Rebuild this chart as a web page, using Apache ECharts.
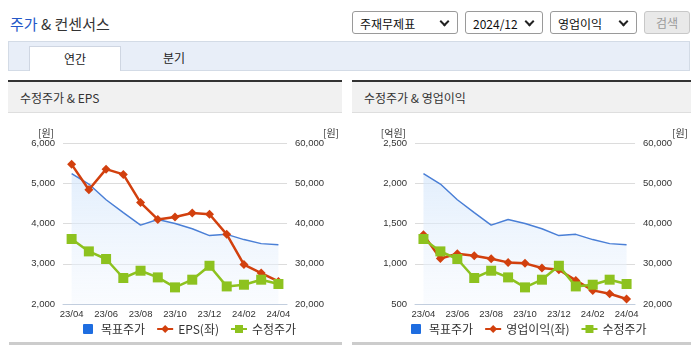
<!DOCTYPE html>
<html>
<head>
<meta charset="utf-8">
<script src="https://cdn.jsdelivr.net/npm/echarts@6/dist/echarts.min.js"></script>
<style>
  html, body { margin:0; padding:0; background:#fff; }
  body { width:695px; height:349px; position:relative; overflow:hidden; font-family:"Noto Sans CJK KR", "Noto Sans", sans-serif; color:#333; }
  .abs { position:absolute; }
  .title { left:10px; top:13px; font-size:15px; color:#333; white-space:nowrap; }
  .title b { font-weight:normal; color:#2458c8; }
  .sel { top:11px; height:23px; border:1px solid #9a9a9a; border-radius:3px; background:#fff; font-size:12px; line-height:23px; box-sizing:border-box; padding-left:7px; color:#111; }
  .sel i { position:absolute; right:9px; top:6px; width:5px; height:5px; border-right:2px solid #222; border-bottom:2px solid #222; transform:rotate(45deg); }
  .btn { top:11px; height:23px; left:644px; width:46px; border:1px solid #c8c8c8; border-radius:3px; background:#e9e9e9; color:#9a9a9a; font-size:12px; line-height:22px; text-align:center; box-sizing:border-box; }
  .tabbar { left:8px; top:41px; width:682px; height:30px; background:#e8eef8; border:1px solid #d3dbe6; box-sizing:border-box; }
  .tab { top:46px; left:29px; width:92px; height:25px; background:#fff; border:1px solid #cfd6e2; border-bottom:none; box-sizing:border-box; font-size:12px; text-align:center; line-height:24px; color:#222; }
  .tab2 { top:46px; left:128px; width:92px; height:25px; font-size:12px; text-align:center; line-height:24px; color:#222; }
  .phead { top:80px; height:33px; background:#f1f1f1; border-top:2px solid #333; border-bottom:1px solid #dedede; box-sizing:border-box; font-size:12px; line-height:31px; padding-left:12px; color:#333; }
  .pfoot { top:342px; height:3px; background:#cccccc; }
</style>
</head>
<body>
<div class="abs title"><b>주가</b> &amp; 컨센서스</div>
<div class="abs sel" style="left:352px;width:106px;">주재무제표<i></i></div>
<div class="abs sel" style="left:465px;width:78px;">2024/12<i></i></div>
<div class="abs sel" style="left:550px;width:87px;">영업이익<i></i></div>
<div class="abs btn">검색</div>
<div class="abs tabbar"></div>
<div class="abs tab">연간</div>
<div class="abs tab2">분기</div>

<div class="abs phead" style="left:8px;width:334px;">수정주가 &amp; EPS</div>
<div class="abs phead" style="left:352px;width:339px;">수정주가 &amp; 영업이익</div>
<div id="c1" class="abs" style="left:8px;top:114px;width:334px;height:228px;"></div>
<div id="c2" class="abs" style="left:352px;top:114px;width:339px;height:228px;"></div>
<div class="abs pfoot" style="left:9px;width:333px;"></div>
<div class="abs pfoot" style="left:352px;width:339px;"></div>

<script>
const categories = ['23/04','23/05','23/06','23/07','23/08','23/09','23/10','23/11','23/12','24/01','24/02','24/03','24/04'];
const targetPrice = [52400, 49800, 45900, 42700, 39600, 41000, 40000, 38700, 37000, 37300, 36000, 35000, 34700];
const adjPrice = [36150, 33070, 31180, 26460, 28270, 26610, 24130, 26040, 29500, 24370, 24790, 26040, 24970];
const eps = [5470, 4840, 5350, 5220, 4520, 4100, 4160, 4260, 4230, 3730, 2980, 2770, 2560];
const opProfit = [1360, 1066, 1125, 1100, 1063, 1017, 1005, 947, 926, 793, 669, 628, 562];

const legendNames1 = ['목표주가', 'EPS(좌)', '수정주가'];
const legendNames2 = ['목표주가', '영업이익(좌)', '수정주가'];
const leftUnit1 = '[원]';
const leftUnit2 = '[억원]';
const rightUnit = '[원]';

const NUMFONT = '"Liberation Sans", Arial, sans-serif';
const KFONT = '"Noto Sans CJK KR", sans-serif';
const BLUE = '#4a7fd6', RED = '#d2400e', GREEN = '#8dc21f';

function fmt(v) { return v.toLocaleString('en-US'); }

function build(opts) {
  return {
    animation: false,
    grid: { left: opts.gridLeft, top: 29, width: opts.gridWidth, height: 161 },
    legend: {
      left: opts.legendLeft, top: 204, itemGap: 11, itemWidth: 16, itemHeight: 10,
      textStyle: { fontFamily: KFONT, fontSize: 12, color: '#333' },
      data: [
        { name: opts.names[0], icon: 'path://M1,0L9,0Q10,0 10,1L10,9Q10,10 9,10L1,10Q0,10 0,9L0,1Q0,0 1,0Z', itemStyle: { color: '#1e6de0' } },
        { name: opts.names[1] },
        { name: opts.names[2] }
      ]
    },
    xAxis: {
      type: 'category', data: categories, boundaryGap: true,
      axisLine: { lineStyle: { color: '#c2cede', width: 1 } },
      axisTick: { length: 5, lineStyle: { color: '#c2cede' }, interval: function (i) { return i === 0 || i % 2 === 1; } },
      axisLabel: { interval: 1, margin: 5, fontFamily: NUMFONT, fontSize: 9.5, color: '#333' }
    },
    yAxis: [
      {
        type: 'value', min: opts.lmin, max: opts.lmax, interval: opts.lint, position: 'left',
        name: opts.leftUnit, nameLocation: 'end', nameGap: 4,
        nameTextStyle: { align: 'right', padding: [0, 9, 0, 0], fontFamily: KFONT, fontSize: 10, color: '#333' },
        axisLine: { show: false }, axisTick: { show: false },
        splitLine: { lineStyle: { color: '#dcdcdc' } },
        axisLabel: { margin: 8, fontFamily: NUMFONT, fontSize: 9.5, color: '#333', formatter: fmt }
      },
      {
        type: 'value', min: 20000, max: 60000, interval: 10000, position: 'right',
        name: rightUnit, nameLocation: 'end', nameGap: 4,
        nameTextStyle: { align: 'left', padding: [0, 0, 0, opts.rightNamePad], fontFamily: KFONT, fontSize: 10, color: '#333' },
        axisLine: { show: false }, axisTick: { show: false },
        splitLine: { show: false },
        axisLabel: { margin: 8, fontFamily: NUMFONT, fontSize: 9.5, color: '#333', formatter: fmt }
      }
    ],
    series: [
      {
        name: opts.names[0], type: 'line', yAxisIndex: 1, data: targetPrice,
        showSymbol: false, symbol: 'none', z: 1,
        lineStyle: { color: BLUE, width: 1.5 },
        itemStyle: { color: BLUE },
        areaStyle: {
          color: new echarts.graphic.LinearGradient(0, 0, 0, 1, [
            { offset: 0, color: 'rgba(210,229,251,0.9)' },
            { offset: 1, color: 'rgba(242,247,254,0.6)' }
          ])
        }
      },
      {
        name: opts.names[1], type: 'line', yAxisIndex: 0, data: opts.leftData,
        symbol: 'diamond', symbolSize: 9, z: 3,
        lineStyle: { color: RED, width: 2.5 },
        itemStyle: { color: RED }
      },
      {
        name: opts.names[2], type: 'line', yAxisIndex: 1, data: adjPrice,
        symbol: 'rect', symbolSize: 10, z: 4,
        lineStyle: { color: GREEN, width: 2.5 },
        itemStyle: { color: GREEN }
      }
    ]
  };
}

const ch1 = echarts.init(document.getElementById('c1'), null, { renderer: 'canvas' });
ch1.setOption(build({
  gridLeft: 55, gridWidth: 229, legendLeft: 70, names: legendNames1,
  lmin: 2000, lmax: 6000, lint: 1000, leftUnit: leftUnit1, rightNamePad: 36, leftData: eps
}));
const ch2 = echarts.init(document.getElementById('c2'), null, { renderer: 'canvas' });
ch2.setOption(build({
  gridLeft: 63, gridWidth: 221, legendLeft: 54, names: legendNames2,
  lmin: 500, lmax: 2500, lint: 500, leftUnit: leftUnit2, rightNamePad: 37, leftData: opProfit
}));
</script>
</body>
</html>
